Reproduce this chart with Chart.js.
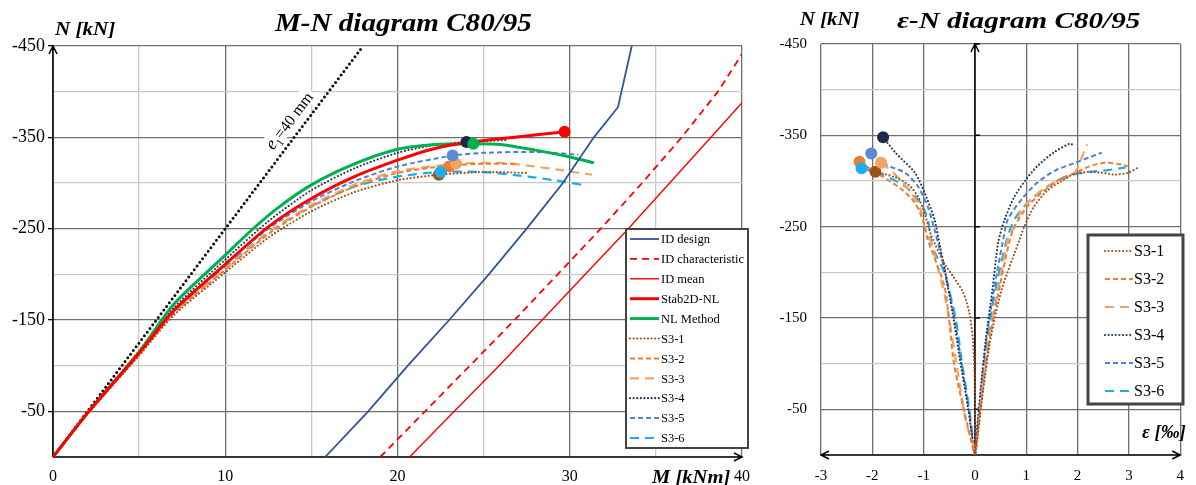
<!DOCTYPE html>
<html>
<head>
<meta charset="utf-8">
<script src="https://cdn.jsdelivr.net/npm/chart.js@4.4.1/dist/chart.umd.min.js"></script>
<style>
  body { margin: 0; background: #fff; }
  #page { position: relative; width: 1196px; height: 485px; overflow: hidden; font-family: "Liberation Serif", serif; }
  .box { position: absolute; top: 0; height: 485px; }
  .lbl { position: absolute; white-space: nowrap; line-height: 1; font-weight: bold; font-style: italic; transform-origin: 0 50%; color: #000; }
</style>
</head>
<body>
<div id="page">
  <div class="box" style="left:0;width:760px"><canvas id="mnChart"></canvas></div>
  <div class="box" style="left:760px;width:436px"><canvas id="enChart"></canvas></div>
  <div class="lbl" id="t1" style="left:275px;top:10px;font-size:25px">M-N diagram C80/95</div>
  <div class="lbl" id="t2" style="left:897px;top:9px;font-size:23px">ε-N diagram C80/95</div>
  <div class="lbl" id="n1" style="left:55px;top:19px;font-size:19px">N [kN]</div>
  <div class="lbl" id="n2" style="left:800px;top:10px;font-size:18px">N [kN]</div>
  <div class="lbl" id="m1" style="left:652px;top:467px;font-size:19px">M [kNm]</div>
  <div class="lbl" id="e2" style="left:1142px;top:423px;font-size:18px">ε [‰]</div>
</div>
<script>
// ---- M-N diagram data: [M kNm, N kN]
const e1Line = [[0, 0], [18, -450]];
const idDesign = [[15.8, 0], [18.3, -50], [20.6, -100], [23.0, -150], [25.3, -200], [27.5, -250], [29.6, -300], [31.4, -350], [32.8, -383], [33.6, -450]];
const idChar = [[19.0, 0], [21.6, -50], [24.2, -100], [26.8, -150], [29.3, -200], [31.8, -250], [34.2, -300], [36.5, -350], [38.6, -400], [40, -441]];
const idMean = [[20.7, 0], [23.3, -50], [25.9, -100], [28.4, -150], [30.9, -200], [33.4, -250], [35.8, -300], [38.2, -350], [40, -388]];
const stab2d = [[0, 0], [2, -48], [5, -114], [7, -160], [10, -211], [12.5, -252], [15, -283], [17.5, -307], [20, -325], [22, -337], [24, -344], [29.7, -356]];
const nlMethod = [[0, 0], [2, -48], [5, -115], [7, -167], [10, -221], [11.5, -248], [13, -272], [15, -298], [17.5, -321], [20, -337], [22, -342], [24.4, -343], [26.1, -342], [28, -336], [29.9, -329], [31.4, -322]];
const s31 = [[0, 0], [2, -47], [5, -111], [7, -155], [10, -202], [12.5, -240], [15, -269], [17.5, -290], [20, -303], [22.4, -309], [25, -312], [27.5, -311]];
const s32 = [[0, 0], [2, -47], [5, -112], [7, -157], [10, -205], [12.5, -244], [15, -274], [17.5, -296], [20, -311], [23, -319], [25, -321], [27, -321]];
const s33 = [[0, 0], [2, -47], [5, -113], [7, -158], [10, -206], [12.5, -246], [15, -276], [17.5, -298], [20, -313], [23.4, -321], [26, -322], [28, -318], [29.5, -314], [31.3, -309]];
const s34 = [[0, 0], [2, -48], [5, -116], [7, -163], [10, -216], [12.5, -258], [15, -292], [17.5, -316], [20, -333], [22, -341], [24, -345], [26.3, -347]];
const s35 = [[0, 0], [2, -48], [5, -115], [7, -161], [10, -211], [12.5, -250], [15, -280], [17.5, -302], [20, -318], [23.2, -330], [25, -333], [28, -334], [30.5, -331]];
const s36 = [[0, 0], [2, -48], [5, -114], [7, -159], [10, -208], [12.5, -246], [15, -275], [17.5, -296], [20, -307], [22.5, -312], [25, -312], [27.6, -307], [29.1, -303], [30.7, -298]];
const mnLabels = ['ID design', 'ID characteristic', 'ID mean', 'Stab2D-NL', 'NL Method', 'S3-1', 'S3-2', 'S3-3', 'S3-4', 'S3-5', 'S3-6'];
const mnPeakM = [22.4, 23.0, 23.4, 24.0, 23.2, 22.5, 29.7, 24.4];
const mnPeakN = [-309, -318, -321, -345, -330, -312, -356, -343];
const mnXTicks = [0, 10, 20, 30, 40];
const mnYTicks = [-450, -350, -250, -150, -50];

// ---- eps-N diagram data: [eps permille, N kN], from peak down to 0 and up the other side
const s31e = [[-1.94, -310], [-1.55, -304], [-1.30, -296], [-1.11, -283], [-0.96, -261], [-0.87, -243], [-0.60, -210], [-0.42, -195], [-0.23, -178], [-0.11, -156], [-0.04, -126], [0, -71], [0, 0], [0.04, -16], [0.16, -71], [0.30, -126], [0.52, -181], [0.87, -236], [0.96, -250], [1.15, -272], [1.40, -289], [1.66, -299], [1.91, -307], [2.23, -310], [2.47, -309], [2.72, -307], [2.98, -309], [3.19, -315]];
const s32e = [[-2.25, -321], [-1.92, -309], [-1.43, -291], [-1.17, -276], [-1.02, -258], [-0.92, -236], [-0.60, -186], [-0.51, -151], [-0.40, -97], [-0.11, -24], [0, 0], [0.04, -16], [0.15, -71], [0.28, -126], [0.47, -181], [0.68, -236], [0.77, -250], [1.02, -272], [1.34, -289], [1.66, -302], [1.96, -309], [2.23, -316], [2.53, -320], [2.85, -318], [2.98, -316]];
const s33e = [[-1.83, -320], [-1.55, -307], [-1.30, -291], [-1.08, -272], [-0.98, -250], [-0.85, -232], [-0.70, -200], [-0.55, -164], [-0.36, -100], [-0.17, -35], [-0.02, -9], [0, 0], [0.04, -16], [0.14, -71], [0.27, -126], [0.45, -181], [0.64, -236], [0.77, -250], [0.91, -269], [1.15, -283], [1.40, -294], [1.72, -302], [1.94, -309], [2.06, -323], [2.19, -340]];
const s34e = [[-1.79, -348], [-1.55, -331], [-1.17, -309], [-0.98, -287], [-0.79, -258], [-0.68, -228], [-0.58, -200], [-0.42, -150], [-0.28, -100], [-0.13, -50], [0, 0], [0.02, -16], [0.11, -71], [0.21, -126], [0.34, -181], [0.45, -232], [0.58, -258], [0.77, -283], [1.0, -302], [1.21, -316], [1.53, -331], [1.85, -341], [1.92, -339]];
const s35e = [[-2.02, -331], [-1.74, -318], [-1.36, -309], [-1.11, -294], [-0.92, -272], [-0.77, -243], [-0.60, -205], [-0.40, -150], [-0.26, -100], [-0.12, -50], [0, 0], [0.03, -16], [0.12, -71], [0.22, -126], [0.37, -181], [0.55, -236], [0.64, -258], [0.91, -280], [1.21, -298], [1.58, -312], [1.96, -320], [2.23, -326], [2.47, -331]];
const s36e = [[-2.21, -314], [-1.81, -307], [-1.36, -294], [-1.06, -276], [-0.92, -258], [-0.83, -228], [-0.60, -200], [-0.38, -150], [-0.25, -100], [-0.11, -50], [0, 0], [0.03, -16], [0.13, -71], [0.24, -126], [0.40, -181], [0.62, -236], [0.77, -258], [1.02, -276], [1.34, -291], [1.66, -302], [1.91, -307], [2.23, -310], [2.6, -312], [2.94, -315]];
const enLabels = ['S3-1', 'S3-2', 'S3-3', 'S3-4', 'S3-5', 'S3-6'];
const enPeakEps = [-1.94, -2.25, -1.83, -1.79, -2.02, -2.21];
const enPeakN = [-310, -321, -320, -348, -330, -314];
const enXTicks = [-3, -2, -1, 0, 1, 2, 3, 4];
const enYTicks = [-450, -350, -250, -150, -50];

// ---- styles
const dotted = [0, 3.6];
const sStyles = [
  { borderColor: '#A0501E', borderWidth: 2.2, borderDash: dotted, borderCapStyle: 'round' },
  { borderColor: '#ED7D31', borderWidth: 2, borderDash: [5, 3] },
  { borderColor: '#F6A35E', borderWidth: 2.2, borderDash: [9, 6] },
  { borderColor: '#1F3864', borderWidth: 2.2, borderDash: dotted, borderCapStyle: 'round' },
  { borderColor: '#4F81D1', borderWidth: 2, borderDash: [5, 3] },
  { borderColor: '#1AAEEC', borderWidth: 2.2, borderDash: [9, 6] }
];
const mnStyles = [
  { borderColor: '#2F5597', borderWidth: 1.8, tension: 0 },
  { borderColor: '#FF0000', borderWidth: 1.8, borderDash: [7, 5], tension: 0 },
  { borderColor: '#FF0000', borderWidth: 1.4, tension: 0 },
  { borderColor: '#FF0000', borderWidth: 3 },
  { borderColor: '#00B050', borderWidth: 3 }
].concat(sStyles);
const sPeakColors = ['#A0501E', '#ED7D31', '#F6A35E', '#1B2A47', '#5B8BD6', '#1AAEEC'];
const gridDark = '#707070', gridLight = '#c9c9c9';

Chart.defaults.font.family = '"Liberation Serif", "Times New Roman", serif';
Chart.defaults.color = '#000';
Chart.defaults.animation = false;

const xy = pts => pts.map(p => ({ x: p[0], y: p[1] }));
const majorN = v => Math.abs(v) % 100 === 50;

function lineSets(labels, series, styles) {
  return labels.map((lab, i) => Object.assign({
    label: lab, data: xy(series[i]), showLine: true, pointRadius: 0, pointHoverRadius: 0, fill: false, tension: 0.25
  }, styles[i]));
}

function peakSet(xs, ys, colors) {
  return {
    label: '_peaks', data: xs.map((v, i) => ({ x: v, y: ys[i] })), showLine: false,
    pointRadius: 6, pointHoverRadius: 6, pointBackgroundColor: colors, pointBorderWidth: 0, order: -1
  };
}

// axes with arrow heads
const axisArrows = {
  id: 'axisArrows',
  beforeDatasetsDraw(chart, args, o) {
    const { ctx, chartArea: a, scales } = chart;
    const x0 = scales.x.getPixelForValue(0);
    const y0 = scales.y.getPixelForValue(0);
    ctx.save();
    ctx.strokeStyle = '#000';
    ctx.lineWidth = 1.5;
    ctx.beginPath();
    ctx.moveTo(x0, a.bottom); ctx.lineTo(x0, a.top);
    ctx.moveTo(a.left, y0); ctx.lineTo(a.right, y0);
    ctx.moveTo(x0 - 4, a.top + 8); ctx.lineTo(x0, a.top); ctx.lineTo(x0 + 4, a.top + 8);
    ctx.moveTo(a.right - 8, y0 - 4); ctx.lineTo(a.right, y0); ctx.lineTo(a.right - 8, y0 + 4);
    if (o.bothEnds) {
      ctx.moveTo(a.left + 8, y0 - 4); ctx.lineTo(a.left, y0); ctx.lineTo(a.left + 8, y0 + 4);
    }
    (o.ticks || []).forEach(v => {
      const y = scales.y.getPixelForValue(v);
      ctx.moveTo(x0, y); ctx.lineTo(x0 + 5, y);
    });
    ctx.stroke();
    ctx.restore();
  }
};

// legend in a framed box, with line samples
const boxLegend = {
  id: 'boxLegend',
  afterDatasetsDraw(chart, args, o) {
    if (!o || !o.rect) return;
    const ctx = chart.ctx;
    const [bx, by, bw, bh] = o.rect;
    ctx.save();
    ctx.fillStyle = '#fff';
    ctx.fillRect(bx, by, bw, bh);
    ctx.strokeStyle = '#444';
    ctx.lineWidth = o.border;
    ctx.strokeRect(bx, by, bw, bh);
    ctx.font = o.font;
    ctx.textBaseline = 'middle';
    chart.data.datasets.filter(d => !d.label.startsWith('_')).forEach((d, i) => {
      const y = by + o.first + i * o.row;
      ctx.strokeStyle = d.borderColor;
      ctx.lineWidth = d.borderWidth;
      ctx.lineCap = d.borderCapStyle || 'butt';
      ctx.setLineDash(d.borderDash || []);
      ctx.beginPath();
      ctx.moveTo(bx + o.sample[0], y);
      ctx.lineTo(bx + o.sample[1], y);
      ctx.stroke();
      ctx.setLineDash([]);
      ctx.fillStyle = '#000';
      ctx.fillText(d.label, bx + o.text, y + 1);
    });
    ctx.restore();
  }
};

Chart.register(axisArrows, boxLegend);

// "e1=40 mm" written along the eccentricity line
const e1Label = {
  id: 'e1Label',
  beforeDatasetsDraw(chart) {
    const { ctx, scales: { x, y } } = chart;
    const n = -368;
    const m = n * e1Line[1][0] / e1Line[1][1];
    const px = x.getPixelForValue(m) - 17, py = y.getPixelForValue(n);
    const ang = Math.atan2(y.getPixelForValue(e1Line[1][1]) - y.getPixelForValue(e1Line[0][1]),
                           x.getPixelForValue(e1Line[1][0]) - x.getPixelForValue(e1Line[0][0]));
    const parts = [
      { t: 'e', f: 'italic 18px "Liberation Serif"', dy: 0 },
      { t: '1', f: '11px "Liberation Serif"', dy: 4 },
      { t: '=40 mm', f: '16px "Liberation Serif"', dy: 0 }
    ];
    ctx.save();
    ctx.translate(px, py);
    ctx.rotate(ang);
    let w = 0;
    parts.forEach(p => { ctx.font = p.f; p.w = ctx.measureText(p.t).width; w += p.w; });
    ctx.fillStyle = '#fff';
    ctx.fillRect(-w / 2 - 3, -10, w + 6, 18);
    ctx.fillStyle = '#000';
    ctx.textBaseline = 'alphabetic';
    let cx = -w / 2;
    parts.forEach(p => { ctx.font = p.f; ctx.fillText(p.t, cx, 5 + p.dy); cx += p.w; });
    ctx.restore();
  }
};

new Chart(document.getElementById('mnChart'), {
  type: 'scatter',
  data: {
    datasets: [peakSet(mnPeakM, mnPeakN, sPeakColors.concat(['#FF0000', '#00B050']))]
      .concat(lineSets(mnLabels, [idDesign, idChar, idMean, stab2d, nlMethod, s31, s32, s33, s34, s35, s36], mnStyles))
      .concat([{ label: '_e1', data: xy(e1Line), showLine: true, pointRadius: 0, borderColor: '#111', borderWidth: 3, borderDash: [0, 4.6], borderCapStyle: 'round' }])
  },
  options: {
    responsive: true,
    maintainAspectRatio: false,
    layout: { padding: { top: 46, right: 12, bottom: 0, left: 0 } },
    plugins: {
      legend: { display: false },
      tooltip: { enabled: false },
      axisArrows: { bothEnds: false },
      boxLegend: { rect: [626, 229, 122, 219], first: 10, row: 19.9, sample: [4, 33], text: 35, font: '12.5px "Liberation Serif"', border: 2 }
    },
    scales: {
      x: {
        type: 'linear', min: 0, max: 40,
        border: { display: false },
        ticks: { stepSize: 5, autoSkip: false, maxRotation: 0, padding: 10, font: { size: 16 }, callback: v => mnXTicks.includes(v) ? v : '' },
        grid: { drawTicks: false, lineWidth: 1.3, color: c => c.tick.value % 10 === 0 ? gridDark : gridLight },
        afterFit: s => { s.height = 28; }
      },
      y: {
        type: 'linear', min: -450, max: 0, reverse: true,
        border: { display: false },
        ticks: { stepSize: 50, autoSkip: false, padding: 3, font: { size: 18 }, callback: v => mnYTicks.includes(v) ? v : '' },
        grid: { tickLength: 5, lineWidth: 1.3, color: c => majorN(c.tick.value) ? gridDark : gridLight, tickColor: c => majorN(c.tick.value) ? '#000' : 'rgba(0,0,0,0)' },
        afterFit: s => { s.width = 53; }
      }
    }
  },
  plugins: [e1Label]
});

new Chart(document.getElementById('enChart'), {
  type: 'scatter',
  data: {
    datasets: [peakSet(enPeakEps, enPeakN, sPeakColors)]
      .concat(lineSets(enLabels, [s31e, s32e, s33e, s34e, s35e, s36e], sStyles))
  },
  options: {
    responsive: true,
    maintainAspectRatio: false,
    layout: { padding: { top: 44, right: 5, bottom: 0, left: 0 } },
    plugins: {
      legend: { display: false },
      tooltip: { enabled: false },
      axisArrows: { bothEnds: true, ticks: enYTicks },
      boxLegend: { rect: [328, 235, 95, 169], first: 16, row: 28, sample: [17, 45], text: 46, font: '16px "Liberation Serif"', border: 3 }
    },
    scales: {
      x: {
        type: 'linear', min: -3, max: 4,
        border: { display: false },
        ticks: { stepSize: 1, autoSkip: false, maxRotation: 0, padding: 12, font: { size: 15 }, callback: v => enXTicks.includes(v) ? v : '' },
        grid: { drawTicks: false, lineWidth: 1.3, color: gridDark },
        afterFit: s => { s.height = 30; }
      },
      y: {
        type: 'linear', min: -450, max: 0, reverse: true,
        border: { display: false },
        ticks: { stepSize: 50, autoSkip: false, padding: 14, font: { size: 15 }, callback: v => enYTicks.includes(v) ? v : '' },
        grid: { drawTicks: false, lineWidth: 1.3, color: c => majorN(c.tick.value) ? gridDark : gridLight },
        afterFit: s => { s.width = 61; }
      }
    }
  }
});

// stretch the heading texts to the widths they take in the picture
function stretchTo(id, w) {
  const el = document.getElementById(id);
  el.style.transform = 'scaleX(' + (w / el.offsetWidth).toFixed(3) + ')';
}
stretchTo('t1', 257);
stretchTo('t2', 243);
stretchTo('n1', 60);
stretchTo('n2', 60);
stretchTo('m1', 78);
stretchTo('e2', 44);
</script>
</body>
</html>
